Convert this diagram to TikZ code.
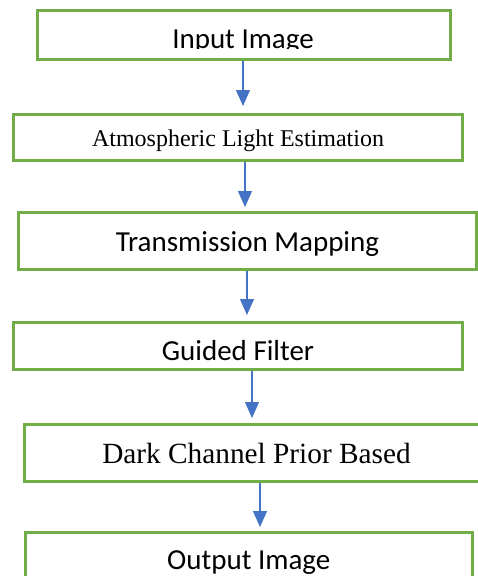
\documentclass[tikz,border=0pt]{standalone}
\usepackage{fontspec}
\setmainfont{Liberation Serif}
\newfontfamily\calibri{Carlito}
\usetikzlibrary{arrows.meta}
\definecolor{boxgreen}{HTML}{70AD47}
\definecolor{arrowblue}{HTML}{4472C4}
\begin{document}
\begin{tikzpicture}[x=1pt, y=-1pt, line join=miter,
	stage/.style={draw=boxgreen, line width=3pt, inner sep=0pt, text depth=0pt},
	sanstext/.style={font=\calibri\fontsize{29}{31}\selectfont},
	rmtext/.style={font=\fontsize{#1}{#1}\selectfont},
	flow/.style={draw=arrowblue, line width=1.2pt, -{Triangle[width=14pt,length=16pt]}}]
	\useasboundingbox (0,0) rectangle (478,576);
	\clip (0,0) rectangle (478,576);
	\node[stage, minimum width=413, minimum height=49] (in) at (244,35) {};
	\begin{scope}
		\clip (in.north west) rectangle ([yshift=-13.5pt]in.east);
		\node[sanstext, anchor=base, inner sep=0pt] (intext) at (243,48) {Input Image};
	\end{scope}
	\node[stage, rmtext=24, text height=17pt, minimum width=449, minimum height=46] (ale) at (238,137.5) {Atmospheric Light Estimation};
	\node[stage, sanstext, text height=20pt, minimum width=458, minimum height=57] (tm) at (247.5,241) {Transmission Mapping};
	\node[stage, sanstext, text height=28pt, minimum width=449, minimum height=47] (gf) at (238,346) {Guided Filter};
	\node[stage, rmtext=29.3, text height=20pt, minimum width=464, minimum height=57] (dcp) at (256.5,453) {Dark Channel Prior Based};
	\node[stage, sanstext, text height=16pt, minimum width=447.5, minimum height=57] (out) at (248.75,561) {Output Image};
	\draw[flow, shorten >=7pt] ([xshift=-1pt]in.south) -- ([xshift=5pt]ale.north);
	\draw[flow, shorten >=4pt] ([xshift=7pt]ale.south) -- ([xshift=-2.5pt]tm.north);
	\draw[flow, shorten >=6pt] ([xshift=-0.5pt]tm.south) -- ([xshift=9pt]gf.north);
	\draw[flow, shorten >=5pt] ([xshift=14pt]gf.south) -- ([xshift=-4.5pt]dcp.north);
	\draw[flow, shorten >=4pt] ([xshift=3.5pt]dcp.south) -- ([xshift=11.25pt]out.north);
\end{tikzpicture}
\end{document}
